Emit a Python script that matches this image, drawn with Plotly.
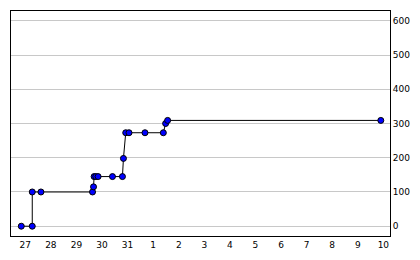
import plotly.graph_objects as go

times = [
    "2023-12-26 20:15", "2023-12-27 06:33", "2023-12-27 06:33", "2023-12-27 14:41",
    "2023-12-29 15:06", "2023-12-29 16:02", "2023-12-29 16:35", "2023-12-29 18:10",
    "2023-12-29 20:20", "2023-12-30 09:49", "2023-12-30 19:10", "2023-12-30 20:07",
    "2023-12-30 22:15", "2023-12-31 01:20", "2023-12-31 16:19", "2024-01-01 09:33",
    "2024-01-01 11:41", "2024-01-01 13:35", "2024-01-09 21:36",
]
values = [0, 0, 100, 100, 100, 115, 145, 145, 145, 145, 145, 198, 273, 273, 273, 273, 300, 309, 309]
y_ticks = [0, 100, 200, 300, 400, 500, 600]

fig = go.Figure()
fig.add_trace(go.Scatter(
    x=times, y=values, mode="lines+markers",
    line=dict(color="black", width=1),
    marker=dict(color="#0000ff", size=6, line=dict(color="black", width=1)),
    showlegend=False,
))

font = dict(family="DejaVu Sans", size=9, color="black")
fig.update_layout(
    width=420, height=260,
    margin=dict(l=10, r=30, t=10, b=20),
    paper_bgcolor="white", plot_bgcolor="white",
    font=font,
    xaxis=dict(
        type="date",
        range=["2023-12-26 10:36", "2024-01-10 06:14"],
        tickformat="%-d", dtick=86400000, tick0="2023-12-27",
        showgrid=False, zeroline=False,
        showline=True, mirror=True, linecolor="black", linewidth=1,
        ticks="", tickfont=font,
    ),
    yaxis=dict(
        side="right",
        range=[-28.6, 628.6],
        tickvals=y_ticks,
        showgrid=True, gridcolor="#c8c8c8", gridwidth=1,
        zeroline=False,
        showline=True, mirror=True, linecolor="black", linewidth=1,
        ticks="", tickfont=font,
    ),
)
fig.write_html("out.html")
